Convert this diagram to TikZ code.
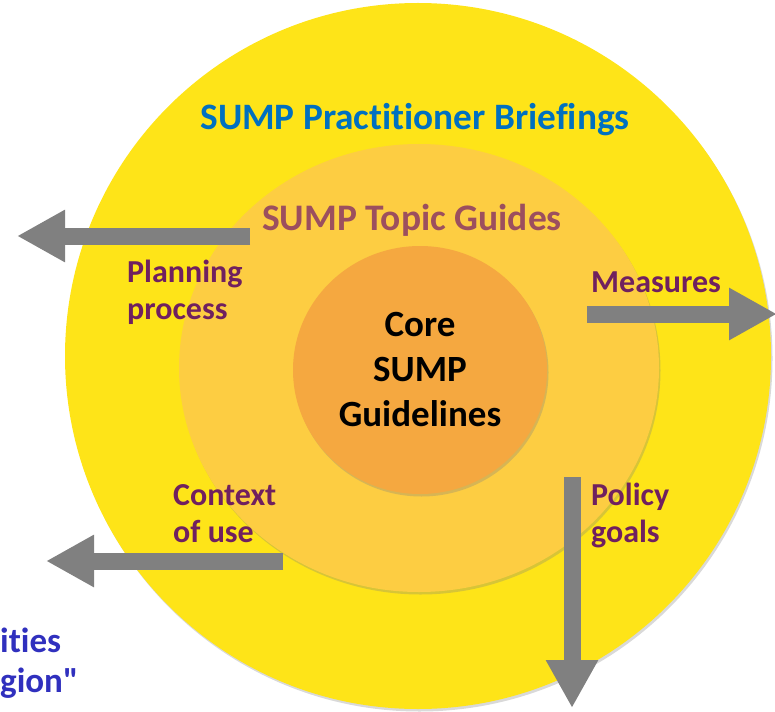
\documentclass[tikz,border=0pt]{standalone}
\usepackage{fontspec}
\setmainfont{Carlito}[Ligatures={TeX,NoCommon}]
\newfontfamily\cityfont{Carlito}[Ligatures={TeXOff,NoCommon}]
\usepackage{tikz}
\usetikzlibrary{shapes.geometric,shadows,arrows.meta}

\definecolor{outeryellow}{HTML}{FEE418}
\definecolor{midyellow}{HTML}{FDCD42}
\definecolor{coreorange}{HTML}{F5A840}
\definecolor{briefblue}{HTML}{0070C0}
\definecolor{guidemauve}{HTML}{9C4F5E}
\definecolor{labelpurple}{HTML}{70205F}
\definecolor{arrowgrey}{HTML}{808080}
\definecolor{cityblue}{HTML}{3030BE}

\begin{document}
\begin{tikzpicture}[x=1pt, y=-1pt,
	disc/.style={ellipse, draw=none, inner sep=0pt, drop shadow={shadow xshift=1.5pt, shadow yshift=-2.5pt, opacity=0.3}},
	blockarrow/.style={arrowgrey, line width=17pt, -{Triangle[width=49pt, length=48pt]}},
	sidelabel/.style={labelpurple, align=left, inner sep=0pt, font=\bfseries\fontsize{32}{37}\selectfont}]

	\useasboundingbox (0,0) rectangle (775,711);

	% the three rings
	\node[disc, fill=outeryellow, minimum width=706, minimum height=706] (outer) at (418,356) {};
	\node[disc, fill=midyellow, minimum width=480, minimum height=448] (middle) at (419,368) {};
	\node[disc, fill=coreorange, minimum width=254, minimum height=248, align=center, font=\bfseries\fontsize{37}{45}\selectfont] (core) at (420,370) {Core\\SUMP\\Guidelines};

	\node[briefblue, anchor=base, inner sep=0pt, font=\bfseries\fontsize{37.3}{44}\selectfont] (briefings) at (415,130) {SUMP Practitioner Briefings};
	\node[guidemauve, anchor=base, inner sep=0pt, font=\bfseries\fontsize{37.5}{44}\selectfont] (topics) at (412,230) {SUMP Topic Guides};

	% base anchor sits on the last line
	\node[sidelabel, anchor=base west] (planning) at (127,319) {Planning\\process};
	\node[sidelabel, anchor=base west] (measures) at (591,292) {Measures};
	\node[sidelabel, anchor=base west] (context) at (173,542) {Context\\of use};
	\node[sidelabel, anchor=base west] (policy) at (591,542) {Policy\\goals};

	\node[cityblue, anchor=base west, inner sep=0pt, font=\cityfont\bfseries\fontsize{35}{40}\selectfont] (cities) at (0,652) {ities};
	\node[cityblue, anchor=base west, inner sep=0pt, font=\cityfont\bfseries\fontsize{35}{40}\selectfont] (region) at (0,692) {gion"};

	% arrows out of the rings
	\coordinate (planfrom) at (250,236);
	\coordinate (planto) at (17,236);
	\coordinate (measfrom) at (587,314);
	\coordinate (measto) at (777,314);
	\coordinate (ctxfrom) at (283,561);
	\coordinate (ctxto) at (46,561);
	\coordinate (polfrom) at (572,477);
	\coordinate (polto) at (572,708);

	\draw[blockarrow] (planfrom) -- (planto);
	\draw[blockarrow] (measfrom) -- (measto);
	\draw[blockarrow] (ctxfrom) -- (ctxto);
	\draw[blockarrow] (polfrom) -- (polto);

\end{tikzpicture}
\end{document}
